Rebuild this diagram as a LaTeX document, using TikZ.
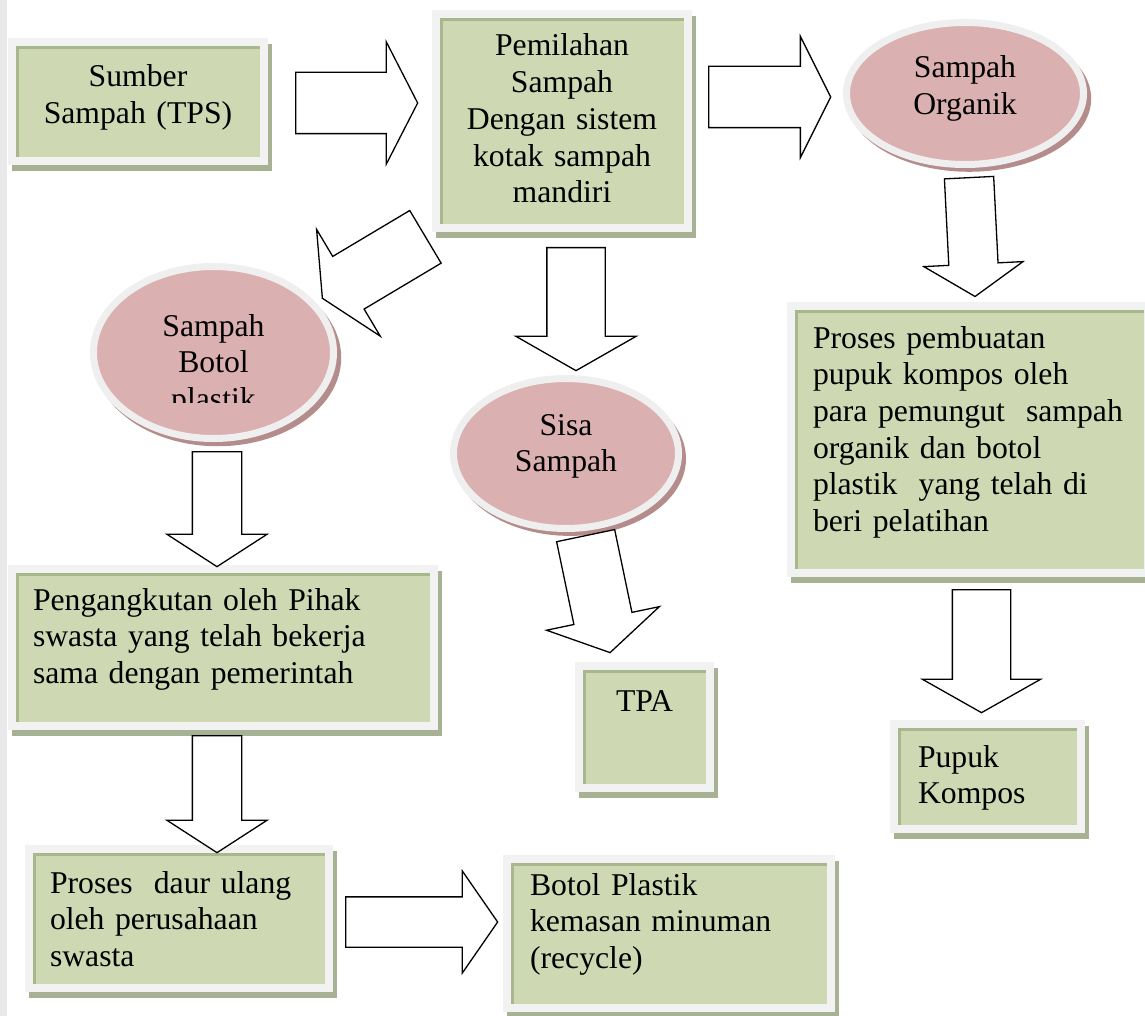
\documentclass[tikz,border=0pt]{standalone}
\usepackage{fontspec}
\setmainfont{Liberation Serif}
\usetikzlibrary{shapes.geometric,shapes.arrows,shadows}
\definecolor{FrameGray}{HTML}{F2F2F2}
\definecolor{EdgeGray}{HTML}{E9E9E9}
\definecolor{BoxFill}{HTML}{CED9B4}
\definecolor{BoxEdge}{HTML}{A9B78C}
\definecolor{BoxShadow}{HTML}{A7B193}
\definecolor{OvalFill}{HTML}{DBB0B0}
\definecolor{OvalRing}{HTML}{EFEFEF}
\definecolor{OvalShadow}{HTML}{B58C8C}
\newcommand{\bodysize}{\fontsize{31.7pt}{36.7pt}\selectfont}
\tikzset{
  greenbox/.style={
    rectangle,
    fill=FrameGray,
    inner sep=0pt,
    font=\bodysize,
    text height=0pt,
    drop shadow={shadow xshift=4pt,shadow yshift=-6pt,fill=BoxShadow,opacity=1},
    path picture={
      \fill[BoxEdge]
        ([shift={(8pt,-8pt)}]path picture bounding box.north west)
        rectangle ([shift={(-8pt,8pt)}]path picture bounding box.south east);
      \fill[BoxFill]
        ([shift={(11pt,-11pt)}]path picture bounding box.north west)
        rectangle ([shift={(-8pt,8pt)}]path picture bounding box.south east);
    },
  },
  pinkoval/.style={
    ellipse,
    fill=OvalFill,
    draw=OvalRing,
    line width=7pt,
    inner sep=0pt,
    align=center,
    text width=112pt,
    text height=0pt,
    font=\bodysize,
    drop shadow={shadow xshift=4pt,shadow yshift=-5pt,shadow scale=1.03,fill=OvalShadow,opacity=1},
  },
  ovaltext/.style={
    inner sep=0pt,
    align=center,
    text width=112pt,
    font=\bodysize,
  },
  blockarrow/.style={
    single arrow,
    draw=black,
    fill=white,
    line width=1.3pt,
    inner xsep=0pt,
    single arrow head indent=0pt,
    anchor=tail,
  }
}
\begin{document}
\begin{tikzpicture}[x=1pt,y=-1pt]
  \useasboundingbox (0,0) rectangle (1145,1016);
  \fill[EdgeGray] (0,0) rectangle (7,1016);

  % boxes
  \node[
    greenbox,
    minimum width=260pt,
    minimum height=127pt,
    text width=240pt,
    align=center,
    text depth=29pt
  ] (tps) at (138,101.5) {Sumber\\Sampah (TPS)};

  \node[
    greenbox,
    minimum width=260pt,
    minimum height=222pt,
    text width=240pt,
    align=center,
    text depth=130pt
  ] (pilah) at (562,121) {Pemilahan\\Sampah\\Dengan sistem\\kotak sampah\\mandiri};

  \node[
    greenbox,
    minimum width=365pt,
    minimum height=275pt,
    text width=313pt,
    align=left,
    text depth=183pt
  ] (kompos) at (969.5,439.5) {Proses pembuatan\\pupuk kompos oleh\\para pemungut~ sampah\\organik dan botol\\plastik~ yang telah di\\beri pelatihan};

  \node[
    greenbox,
    minimum width=195pt,
    minimum height=113pt,
    text width=139pt,
    align=left,
    text depth=19pt
  ] (pupuk) at (987.5,776.5) {Pupuk\\Kompos};

  \node[
    greenbox,
    minimum width=430pt,
    minimum height=165pt,
    text width=380pt,
    align=left,
    text depth=75pt
  ] (angkut) at (223,647.5) {Pengangkutan oleh Pihak\\swasta yang telah bekerja\\sama dengan pemerintah};

  \node[
    greenbox,
    minimum width=139pt,
    minimum height=130pt,
    text width=100pt,
    align=center,
    text depth=32pt
  ] (tpa) at (644.5,727) {TPA};

  \node[
    greenbox,
    minimum width=308pt,
    minimum height=147pt,
    text width=258pt,
    align=left,
    text depth=51pt
  ] (daur) at (179,918.5) {Proses~ daur ulang\\oleh perusahaan\\swasta};

  \node[
    greenbox,
    minimum width=332pt,
    minimum height=157pt,
    text width=278pt,
    align=left,
    text depth=77pt
  ] (kemasan) at (669,933.5) {Botol Plastik\\kemasan minuman\\(recycle)};

  % ovals
  \node[
    pinkoval,
    minimum width=237pt,
    minimum height=142pt,
    text depth=31pt
  ] (organik) at (965,93.5) {Sampah\\Organik};

  \node[
    pinkoval,
    minimum width=240pt,
    minimum height=172pt
  ] (botol) at (213.5,352.5) {};
  \begin{scope}
    \clip (90,290) rectangle (340,402);
    \node[ovaltext, anchor=base] (botoltext) at (213.5,336) {Sampah\\Botol\\plastik};
  \end{scope}

  \node[
    pinkoval,
    minimum width=225pt,
    minimum height=150pt,
    text depth=37pt
  ] (sisa) at (566,453.5) {Sisa\\Sampah};

  % block arrows (placed by their tails)
  \node[blockarrow, minimum height=122pt, minimum width=121pt, inner ysep=30pt,
    single arrow head extend=30.5pt, single arrow tip angle=125.7]
    (tps-pilah) at (295,103) {};
  \node[blockarrow, minimum height=122pt, minimum width=120pt, inner ysep=30pt,
    single arrow head extend=30pt, single arrow tip angle=126.9]
    (pilah-organik) at (708,97) {};
  \node[blockarrow, minimum height=119pt, minimum width=98pt, inner ysep=24pt,
    single arrow head extend=25pt, single arrow tip angle=113.7, rotate=-87.1]
    (organik-kompos) at (969,177) {};
  \node[blockarrow, minimum height=123pt, minimum width=117pt, inner ysep=28.5pt,
    single arrow head extend=30pt, single arrow tip angle=121.1, rotate=-90]
    (kompos-pupuk) at (981.5,589) {};
  \node[blockarrow, minimum height=120pt, minimum width=123pt, inner ysep=30pt,
    single arrow head extend=31.5pt, single arrow tip angle=128, rotate=210.8]
    (pilah-botol) at (426,236.5) {};
  \node[blockarrow, minimum height=115pt, minimum width=99pt, inner ysep=24pt,
    single arrow head extend=25.5pt, single arrow tip angle=114.2, rotate=-90]
    (botol-angkut) at (217,451) {};
  \node[blockarrow, minimum height=117pt, minimum width=99pt, inner ysep=24pt,
    single arrow head extend=25.5pt, single arrow tip angle=114.2, rotate=-90]
    (angkut-daur) at (217,735) {};
  \node[blockarrow, minimum height=152pt, minimum width=101pt, inner ysep=24.5pt,
    single arrow head extend=26pt, single arrow tip angle=110.6]
    (daur-kemasan) at (345,922) {};
  \node[blockarrow, minimum height=123pt, minimum width=119pt, inner ysep=28.5pt,
    single arrow head extend=31pt, single arrow tip angle=120.5, rotate=-90]
    (pilah-sisa) at (576,247) {};
  \node[blockarrow, minimum height=119.5pt, minimum width=114pt, inner ysep=29pt,
    single arrow head extend=28pt, single arrow tip angle=117.6, rotate=-78.2]
    (sisa-tpa) at (585.5,535) {};
\end{tikzpicture}
\end{document}
